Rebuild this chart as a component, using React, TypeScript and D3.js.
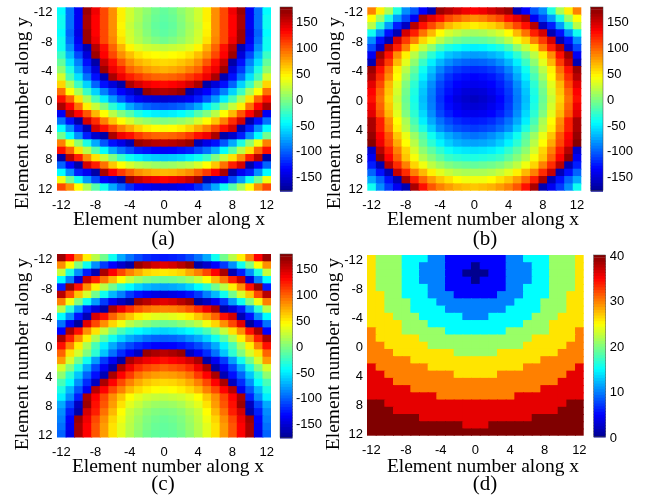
import React from "react";
import * as d3 from "d3";

// Half rows: columns -12..0 for each y = -12..12; each map is mirror symmetric about x = 0.
const phaseA = [
  [-45,-95,-140,170,140,110,85,50,28,15,5,-5,-10],
  [-40,-95,-140,165,135,110,85,50,28,15,2,-8,-12],
  [-40,-95,-140,165,135,110,85,48,25,12,0,-10,-14],
  [-45,-100,-145,170,135,110,85,50,28,15,2,-8,-12],
  [-40,-95,-140,170,140,110,88,55,30,18,8,0,-5],
  [-40,-85,-130,-165,160,130,100,72,48,35,28,25,22],
  [-25,-70,-110,-150,170,135,110,85,68,55,48,45,42],
  [-10,-55,-90,-130,-170,155,130,105,85,72,65,60,58],
  [5,-35,-75,-115,-150,170,140,125,100,90,80,75,72],
  [30,-20,-55,-95,-130,-165,165,140,125,115,105,100,98],
  [60,15,-25,-60,-100,-130,-150,-170,165,150,140,135,132],
  [95,45,15,-25,-60,-90,-115,-135,-150,-170,172,165,162],
  [130,100,55,15,-20,-50,-80,-105,-125,-140,-148,-152,-155],
  [165,135,95,50,25,0,-30,-50,-75,-90,-100,-105,-108],
  [-140,165,135,105,70,45,20,0,-15,-35,-45,-50,-52],
  [-95,-130,-170,150,120,90,65,45,30,15,8,3,0],
  [-45,-85,-125,-165,150,130,110,90,75,60,50,45,43],
  [-5,-45,-85,-125,-155,-170,165,140,130,115,105,100,98],
  [90,40,5,-35,-75,-105,-130,-145,-165,172,165,160,158],
  [130,100,55,20,-15,-45,-75,-95,-110,-125,-130,-135,-137],
  [-170,160,125,85,55,25,0,-25,-40,-50,-58,-62,-64],
  [-100,-135,-170,150,125,95,65,45,30,20,15,10,8],
  [-45,-85,-125,-140,-170,165,135,115,100,85,78,72,70],
  [40,-5,-40,-80,-110,-135,-150,-170,170,155,145,140,135],
  [110,85,45,15,-15,-40,-75,-100,-120,-135,-140,-145,-147],
];

const phaseB = [
  [90,50,15,-35,-85,-105,-135,-165,170,160,150,140,135],
  [45,10,-35,-80,-110,-140,165,145,130,110,100,90,85],
  [20,-30,-80,-125,-160,160,130,110,90,70,60,55,50],
  [-40,-85,-130,-165,150,125,95,70,45,30,22,15,12],
  [-85,-130,-165,150,115,90,60,40,20,5,-5,-10,-12],
  [-110,-155,160,125,90,50,25,5,-20,-35,-42,-48,-50],
  [-140,170,130,85,50,20,-5,-30,-50,-65,-72,-78,-80],
  [-165,155,115,70,35,5,-25,-50,-70,-85,-95,-100,-102],
  [170,130,95,50,20,-10,-40,-65,-88,-105,-115,-120,-122],
  [160,120,85,45,10,-20,-50,-75,-100,-118,-128,-132,-135],
  [145,110,70,35,0,-30,-60,-85,-110,-125,-135,-140,-142],
  [135,100,65,30,-5,-35,-65,-90,-115,-130,-142,-150,-152],
  [130,95,60,25,-8,-38,-68,-92,-118,-135,-148,-155,-160],
  [140,100,65,30,-5,-35,-65,-90,-115,-132,-142,-150,-152],
  [145,105,70,35,0,-30,-58,-85,-110,-125,-135,-140,-142],
  [165,125,85,45,15,-20,-50,-75,-95,-110,-120,-125,-127],
  [165,125,90,50,20,-10,-35,-62,-85,-98,-108,-112,-115],
  [172,135,105,65,38,10,-15,-40,-60,-75,-85,-92,-95],
  [178,140,110,75,45,20,-8,-30,-48,-62,-72,-76,-78],
  [-155,160,125,90,60,30,5,-12,-28,-42,-50,-53,-55],
  [-140,175,135,100,65,42,18,2,-12,-25,-30,-33,-35],
  [-125,-165,160,120,90,60,40,22,10,0,-5,-8,-10],
  [-100,-130,-165,155,120,90,70,50,35,25,18,15,15],
  [-75,-100,-130,-165,165,125,100,80,65,55,45,40,40],
  [-40,-85,-115,-140,-165,165,130,105,90,80,72,68,65],
];

const phaseC = [
  [170,135,90,50,20,-5,-40,-75,-95,-110,-120,-125,-128],
  [85,45,0,-40,-85,-115,-135,-155,-170,172,160,150,145],
  [25,-35,-85,-125,-165,165,135,110,90,75,60,55,52],
  [-45,-90,-150,155,125,95,70,45,25,10,0,-5,-8],
  [-125,170,130,85,50,20,-5,-30,-45,-60,-70,-75,-78],
  [160,110,65,30,-5,-40,-70,-90,-115,-130,-140,-145,-150],
  [90,40,0,-40,-80,-115,-140,-160,-175,170,160,150,145],
  [20,-30,-80,-125,-150,-170,165,140,120,105,95,90,88],
  [-45,-85,-130,-165,150,130,100,80,65,50,40,35,32],
  [-95,-140,-175,145,110,85,60,40,20,10,2,-5,-8],
  [-135,165,130,85,55,25,0,-20,-35,-45,-52,-57,-60],
  [165,125,85,50,15,-15,-40,-60,-75,-85,-95,-100,-102],
  [130,90,50,15,-20,-50,-75,-95,-110,-122,-130,-135,-137],
  [100,55,30,0,-30,-65,-95,-120,-140,-160,172,165,160],
  [80,30,-5,-40,-80,-115,-140,-170,165,150,140,135,130],
  [30,0,-35,-75,-110,-140,-170,165,140,120,110,105,100],
  [5,-30,-65,-100,-130,-165,165,135,115,95,85,80,78],
  [-20,-45,-85,-120,-160,165,135,110,90,75,65,60,58],
  [-35,-70,-105,-140,160,135,110,90,70,58,50,45,42],
  [-50,-85,-125,165,135,110,85,65,45,35,28,25,22],
  [-75,-110,-160,170,130,105,80,55,35,25,15,10,8],
  [-85,-125,-170,150,125,95,70,45,25,15,5,0,-2],
  [-90,-135,170,140,110,85,60,40,22,10,0,-5,-8],
  [-95,-140,165,135,105,80,55,35,20,8,-2,-8,-10],
  [-100,-145,165,135,105,80,55,35,18,5,-5,-10,-12],
];

const levelD = [
  [26,21,21,21,15,15,15,10,10,5,5,5,5],
  [26,21,21,21,15,15,10,10,10,5,5,5,0],
  [26,21,21,21,15,15,10,10,10,5,5,0,0],
  [26,21,21,21,15,15,10,10,10,5,5,5,0],
  [26,21,21,21,15,15,15,10,10,5,5,5,5],
  [26,26,21,21,15,15,15,10,10,10,5,5,5],
  [26,26,21,21,21,15,15,15,10,10,10,10,10],
  [26,26,21,21,21,15,15,15,15,10,10,10,10],
  [26,26,26,21,21,21,15,15,15,15,15,10,10],
  [26,26,26,26,21,21,21,15,15,15,15,15,15],
  [30,26,26,26,21,21,21,21,21,15,15,15,15],
  [30,26,26,26,26,26,21,21,21,21,21,21,21],
  [30,30,26,26,26,26,26,21,21,21,21,21,21],
  [30,30,30,26,26,26,26,26,26,26,21,21,21],
  [30,30,30,30,30,26,26,26,26,26,26,26,26],
  [36,30,30,30,30,30,30,26,26,26,26,26,26],
  [36,36,30,30,30,30,30,30,30,30,26,26,26],
  [36,36,36,30,30,30,30,30,30,30,30,30,30],
  [36,36,36,36,36,30,30,30,30,30,30,30,30],
  [36,36,36,36,36,36,36,36,30,30,30,30,30],
  [40,40,36,36,36,36,36,36,36,36,36,36,36],
  [40,40,40,36,36,36,36,36,36,36,36,36,36],
  [40,40,40,40,40,40,36,36,36,36,36,36,36],
  [40,40,40,40,40,40,40,40,40,40,40,36,36],
  [40,40,40,40,40,40,40,40,40,40,40,40,40],
];

const elements = d3.range(-12, 13);
const axisTicks = [-12, -8, -4, 0, 4, 8, 12];
const phaseBarTicks = [150, 100, 50, 0, -50, -100, -150];
const levelBarTicks = [40, 30, 20, 10, 0];
const xTitle = "Element number along x";
const yTitle = "Element number along y";

const jetStops: [number, string][] = [
  [0, "#00008f"], [0.125, "#0000ff"], [0.375, "#00ffff"], [0.625, "#ffff00"], [0.875, "#ff0000"], [1, "#800000"],
];
const jet = d3.scaleLinear<string>().domain(jetStops.map((s) => s[0])).range(jetStops.map((s) => s[1])).interpolate(d3.interpolateRgb);

const SERIF = "'Liberation Serif', serif";
const SANS = "'Liberation Sans', sans-serif";
const TICK = 13;

type PanelProps = {
  half: number[][]; label: string; domain: [number, number]; barDomain: [number, number]; barTicks: number[];
  x: [number, number]; y: [number, number]; bar: [number, number]; barY: [number, number];
  tickRight: number; barLabelX: number; titleX: number; titleY: number; labelX: number; labelY: number; yTitleX: number; yTitleY: number;
};

function Panel(p: PanelProps) {
  const xs = d3.scaleBand<number>().domain(elements).range(p.x);
  const ys = d3.scaleBand<number>().domain(elements).range(p.y);
  const norm = d3.scaleLinear().domain(p.domain).range([0, 1]).clamp(true);
  const barScale = d3.scaleLinear().domain(p.barDomain).range([p.barY[1], p.barY[0]]);
  const levels = d3.range(64);
  const barH = (p.barY[1] - p.barY[0]) / 64;
  const last = elements.length - 1;
  return (
    <g>
      {elements.map((yv, r) => {
        const half = p.half[r];
        const row = half.concat(half.slice(0, 12).reverse());
        return row.map((v, c) => (
          <rect key={`${r}-${c}`} x={xs(elements[c])} y={ys(yv)}
            width={xs.bandwidth() + (c === last ? 0 : 1)} height={ys.bandwidth() + (r === last ? 0 : 1)} fill={jet(norm(v))} />
        ));
      })}
      {axisTicks.map((t) => (
        <text key={`x${t}`} x={xs(t)! + xs.bandwidth() / 2} y={p.y[1] + 18.5} textAnchor="middle" fontFamily={SANS} fontSize={TICK} fill="#000">{t}</text>
      ))}
      {axisTicks.map((t) => (
        <text key={`y${t}`} x={p.tickRight} y={ys(t)! + ys.bandwidth() / 2 + 5.5} textAnchor="end" fontFamily={SANS} fontSize={TICK} fill="#000">{t}</text>
      ))}
      {levels.map((i) => (
        <rect key={`b${i}`} x={p.bar[0]} y={p.barY[1] - (i + 1) * barH} width={p.bar[1] - p.bar[0]} height={barH + (i === 63 ? 0 : 1)} fill={jet((i + 0.5) / 64)} />
      ))}
      <rect x={p.bar[0]} y={p.barY[0]} width={p.bar[1] - p.bar[0]} height={p.barY[1] - p.barY[0]} fill="none" stroke="#444" strokeWidth={0.5} />
      {p.barTicks.map((t) => (
        <text key={`c${t}`} x={p.barLabelX} y={barScale(t) + 5} fontFamily={SANS} fontSize={TICK} fill="#000">{t}</text>
      ))}
      <text x={p.titleX} y={p.titleY} textAnchor="middle" fontFamily={SERIF} fontSize={19.5} fill="#000">{xTitle}</text>
      <text transform={`translate(${p.yTitleX},${p.yTitleY}) rotate(-90)`} textAnchor="middle" fontFamily={SERIF} fontSize={19.5} fill="#000">{yTitle}</text>
      <text x={p.labelX} y={p.labelY} textAnchor="middle" fontFamily={SERIF} fontSize={21} fill="#000">{p.label}</text>
    </g>
  );
}

export default function App() {
  return (
    <svg width={646} height={498} style={{ position: "absolute", left: 0, top: 0, background: "#fff", filter: "blur(0.35px)" }}>
      <Panel half={phaseA} label="(a)" domain={[-180, 180]} barDomain={[-178, 178]} barTicks={phaseBarTicks}
        x={[57, 271]} y={[7.3, 190.7]} bar={[280, 292.5]} barY={[7, 190.7]} tickRight={52.5} barLabelX={296}
        titleX={169} titleY={225} labelX={163} labelY={245} yTitleX={28} yTitleY={113} />
      <Panel half={phaseB} label="(b)" domain={[-180, 180]} barDomain={[-178, 178]} barTicks={phaseBarTicks}
        x={[367.3, 581.3]} y={[7.3, 190.7]} bar={[590.7, 603]} barY={[7, 190.7]} tickRight={363} barLabelX={607}
        titleX={483} titleY={225} labelX={485} labelY={245} yTitleX={340} yTitleY={113} />
      <Panel half={phaseC} label="(c)" domain={[-180, 180]} barDomain={[-178, 178]} barTicks={phaseBarTicks}
        x={[57, 271]} y={[254, 437.5]} bar={[280, 292.5]} barY={[254, 437.5]} tickRight={52.5} barLabelX={296}
        titleX={168} titleY={472} labelX={163} labelY={490} yTitleX={28} yTitleY={354} />
      <Panel half={levelD} label="(d)" domain={[0, 40]} barDomain={[0, 40]} barTicks={levelBarTicks}
        x={[367, 583.7]} y={[255, 435.7]} bar={[593.7, 605.7]} barY={[255, 436.5]} tickRight={363} barLabelX={609.7}
        titleX={483} titleY={472} labelX={485} labelY={490} yTitleX={339} yTitleY={354} />
    </svg>
  );
}
